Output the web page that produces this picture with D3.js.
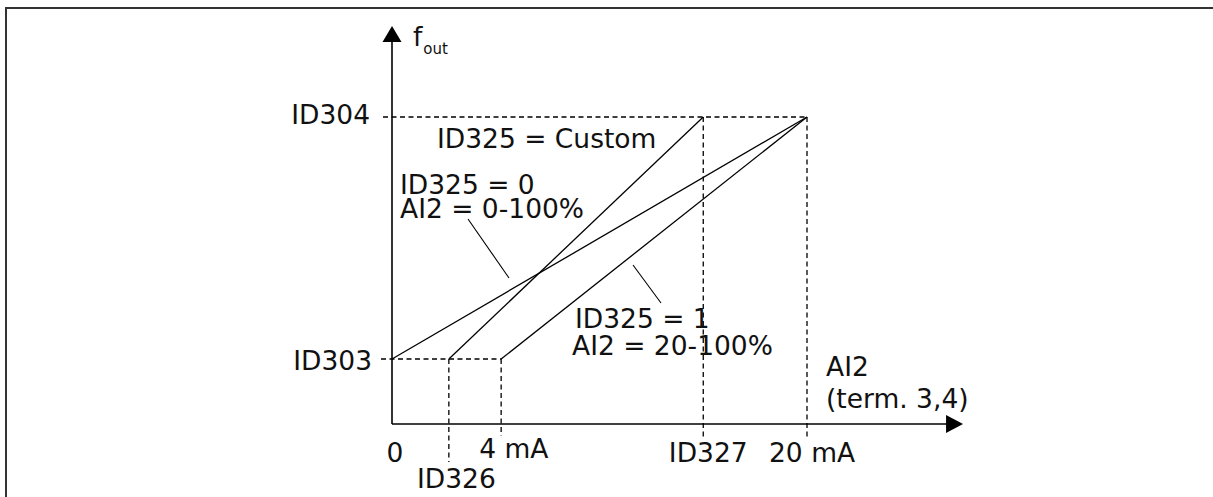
<!DOCTYPE html>
<html>
<head>
<meta charset="utf-8">
<script src="https://d3js.org/d3.v7.min.js"></script>
<style>
    body { margin: 0; background: #fff; }
    text { font-family: "DejaVu Sans", Verdana, sans-serif; fill: #111; }
</style>
</head>
<body>
<script>
// Input axis positions (percent of the 0..20 mA span, diagram is not to scale)
var xTickNames = ["0", "ID326", "4 mA", "ID327", "20 mA"];
var xTickValues = [0, 13.7, 26.3, 75, 100];

// Output levels (percent between ID303 and ID304)
var yTickNames = ["ID303", "ID304"];
var yTickValues = [0, 100];

// Scaling curves: [start input, end input] -> [ID303, ID304]
var curveNames = ["ID325 = 0", "ID325 = 1", "ID325 = Custom"];
var curveStart = [0, 26.3, 13.7];
var curveEnd = [100, 100, 75];

function drawChart() {
    var width = 1213,
        height = 497;

    var svg = d3.select("body")
        .append("svg")
        .attr("width", width)
        .attr("height", height);

    // scales: diagram units -> pixels
    var x = d3.scaleLinear().domain([0, 100]).range([392, 807]);
    var y = d3.scaleLinear().domain([0, 100]).range([359, 117]);

    var x0 = x(0), yAxis = 424;
    var xEnd = x(137.6), yTop = y(137.6);

    // frame (top and left edge only)
    svg.append("path")
        .attr("d", "M6," + height + "V8H" + width)
        .attr("fill", "none")
        .attr("stroke", "#333")
        .attr("stroke-width", 2);

    // dashed guides
    var dash = svg.append("g")
        .attr("stroke", "#000")
        .attr("stroke-width", 1.3)
        .attr("stroke-dasharray", "5,3.5");

    dash.append("line")
        .attr("x1", 383).attr("x2", x(100))
        .attr("y1", y(100)).attr("y2", y(100));
    dash.append("line")
        .attr("x1", 381).attr("x2", x(xTickValues[2]))
        .attr("y1", y(0)).attr("y2", y(0));

    var vBottom = [null, 462, 436, 438, 438];
    var vTop = [null, y(0), y(0), y(100), y(100)];
    for (var i = 1; i < xTickValues.length; i++) {
        dash.append("line")
            .attr("x1", x(xTickValues[i])).attr("x2", x(xTickValues[i]))
            .attr("y1", vTop[i]).attr("y2", vBottom[i]);
    }

    // axes with arrowheads
    var axes = svg.append("g").attr("stroke", "#000").attr("stroke-width", 1.6);
    axes.append("line").attr("x1", x0).attr("x2", x0).attr("y1", yAxis).attr("y2", yTop + 14);
    axes.append("line").attr("x1", x0).attr("x2", xEnd - 16).attr("y1", yAxis).attr("y2", yAxis);

    svg.append("path")
        .attr("d", "M" + x0 + "," + yTop + "L" + (x0 + 9.5) + "," + (yTop + 16) + "L" + (x0 - 9.5) + "," + (yTop + 16) + "Z")
        .attr("fill", "#000");
    svg.append("path")
        .attr("d", "M" + xEnd + "," + yAxis + "L" + (xEnd - 17) + "," + (yAxis - 9) + "L" + (xEnd - 17) + "," + (yAxis + 9) + "Z")
        .attr("fill", "#000");

    // curves
    var line = d3.line()
        .x(function(d) { return x(d[0]); })
        .y(function(d) { return y(d[1]); });

    svg.selectAll(".curve")
        .data(curveNames)
        .enter()
        .append("path")
        .attr("class", "curve")
        .attr("d", function(d, i) {
            return line([[curveStart[i], 0], [curveEnd[i], 100]]);
        })
        .attr("fill", "none")
        .attr("stroke", "#000")
        .attr("stroke-width", 1.3);

    var fs = "26.5px";

    // y labels
    var yOff = [11, 7];
    var yEndX = [372, 370];
    yTickNames.forEach(function(name, i) {
        svg.append("text")
            .attr("x", yEndX[i])
            .attr("y", y(yTickValues[i]) + yOff[i])
            .attr("text-anchor", "end")
            .style("font-size", fs)
            .text(name);
    });

    // x labels
    var xAnchor = ["middle", "middle", "start", "middle", "start"];
    var xOff = [3, 7.5, -22, 5, -38];
    var xBase = [462, 488, 458, 462, 462];
    xTickNames.forEach(function(name, i) {
        svg.append("text")
            .attr("x", x(xTickValues[i]) + xOff[i])
            .attr("y", xBase[i])
            .attr("text-anchor", xAnchor[i])
            .style("font-size", fs)
            .text(name);
    });

    // axis titles
    var fout = svg.append("text")
        .attr("x", 413)
        .attr("y", 46)
        .style("font-size", fs)
        .text("f");
    fout.append("tspan")
        .attr("dx", 1)
        .attr("dy", 8)
        .style("font-size", "15px")
        .text("out");

    svg.append("text").attr("x", 826).attr("y", 376).style("font-size", fs).text("AI2");
    svg.append("text").attr("x", 826).attr("y", 408).style("font-size", fs).text("(term. 3,4)");

    // curve annotations
    svg.append("text").attr("x", 437).attr("y", 148).style("font-size", fs).text(curveNames[2]);
    svg.append("text").attr("x", 400).attr("y", 194).style("font-size", fs).text(curveNames[0]);
    svg.append("text").attr("x", 400).attr("y", 218).style("font-size", fs).text("AI2 = 0-100%");
    svg.append("text").attr("x", 575).attr("y", 328).style("font-size", fs).text(curveNames[1]);
    svg.append("text").attr("x", 572).attr("y", 355).style("font-size", fs).text("AI2 = 20-100%");

    // leader lines
    var leaders = [[468, 219, 509, 278], [633, 265, 661, 303]];
    svg.selectAll(".leader")
        .data(leaders)
        .enter()
        .append("line")
        .attr("class", "leader")
        .attr("x1", function(d) { return d[0]; })
        .attr("y1", function(d) { return d[1]; })
        .attr("x2", function(d) { return d[2]; })
        .attr("y2", function(d) { return d[3]; })
        .attr("stroke", "#000")
        .attr("stroke-width", 1.1);
}

drawChart();
</script>
</body>
</html>
